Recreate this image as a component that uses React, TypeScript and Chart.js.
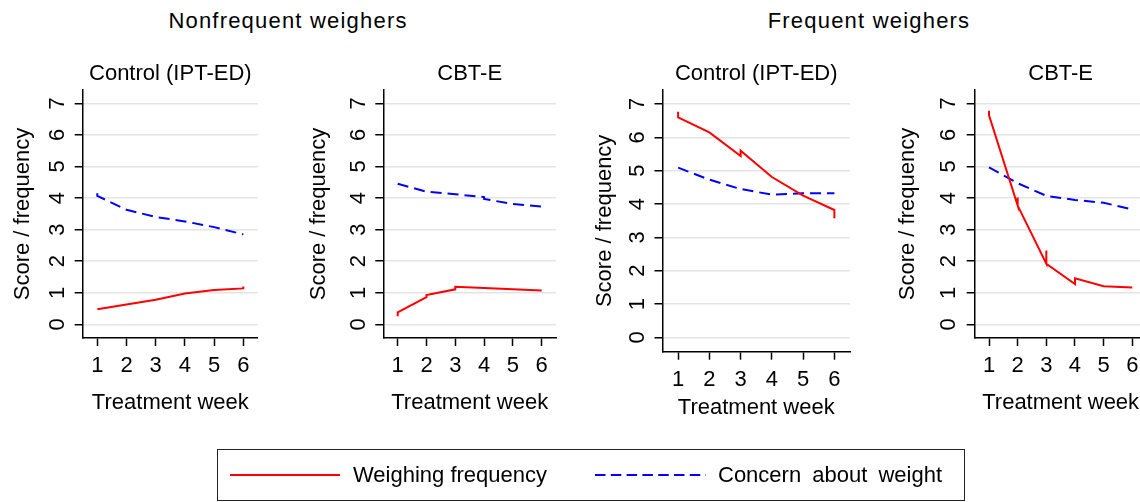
import React, { useEffect, useRef } from "react";
import { Chart, registerables } from "chart.js";

Chart.register(...registerables);

// ---------- text ----------
const groupTitles = ["Nonfrequent weighers", "Frequent weighers"];
const panelTitles = ["Control (IPT-ED)", "CBT-E", "Control (IPT-ED)", "CBT-E"];
const xAxisTitle = "Treatment week";
const yAxisTitle = "Score / frequency";
const seriesNames = ["Weighing frequency", "Concern about weight"];
const weekTicks = [1, 2, 3, 4, 5, 6];
const scoreTicks = [0, 1, 2, 3, 4, 5, 6, 7];

// ---------- data (week, value) ----------
// Nonfrequent weighers – Control (IPT-ED)
const nfCtrlFreqWeeks = [1, 2, 3, 4, 5, 6, 6];
const nfCtrlFreqValues = [0.48, 0.63, 0.78, 0.98, 1.09, 1.14, 1.2];
const nfCtrlConcernWeeks = [1, 1, 2, 3, 4, 5, 6];
const nfCtrlConcernValues = [4.15, 4.07, 3.63, 3.4, 3.26, 3.08, 2.85];
// Nonfrequent weighers – CBT-E
const nfCbtFreqWeeks = [1, 1, 2, 2, 3, 3, 4, 5, 6];
const nfCbtFreqValues = [0.26, 0.38, 0.86, 0.93, 1.11, 1.19, 1.15, 1.11, 1.07];
const nfCbtConcernWeeks = [1, 2, 3, 4, 4, 5, 6, 6];
const nfCbtConcernValues = [4.45, 4.2, 4.12, 4.03, 3.97, 3.81, 3.73, 3.63];
// Frequent weighers – Control (IPT-ED)
const fCtrlFreqWeeks = [1, 1, 2, 3, 3, 4, 5, 6, 6];
const fCtrlFreqValues = [6.77, 6.6, 6.15, 5.44, 5.6, 4.81, 4.25, 3.82, 3.57];
const fCtrlConcernWeeks = [1, 2, 3, 4, 5, 6];
const fCtrlConcernValues = [5.09, 4.73, 4.45, 4.28, 4.32, 4.32];
// Frequent weighers – CBT-E
const fCbtFreqWeeks = [1, 1, 2, 2, 2, 3, 3, 3, 4, 4, 5, 6];
const fCbtFreqValues = [6.76, 6.62, 3.76, 4.02, 3.76, 1.92, 2.34, 1.92, 1.28, 1.46, 1.21, 1.17];
const fCbtConcernWeeks = [1, 2, 3, 4, 5, 6];
const fCbtConcernValues = [4.97, 4.47, 4.07, 3.94, 3.85, 3.64];

// ---------- styles ----------
const FONT = "'Liberation Sans', Arial, Helvetica, sans-serif";
const RED = "#ff0000";
const BLUE = "#0000ff";
const GRID = "#e4e4e4";
const FS = 22;
const LH = FS * 1.2;
const X_MIN = 0.5;
const X_MAX = 6.5;
const Y_MIN = -0.43;
const Y_MAX = 7.42;
const CANVAS_TOP = 50;
const CANVAS_BOTTOM = 430;
const PLOT_TOP = 90;
const TITLE_Y = 74;

type PanelSpec = {
  title: string;
  canvasLeft: number;
  plotL: number;
  plotR: number;
  plotB: number;
  yTitleX: number;
  yTickX: number;
  xTickY: number;
  xTitleY: number;
  freqWeeks: number[];
  freqValues: number[];
  concernWeeks: number[];
  concernValues: number[];
};

const panels: PanelSpec[] = [
  {
    title: panelTitles[0], canvasLeft: 0, plotL: 82.7, plotR: 257.9, plotB: 338,
    yTitleX: 23.3, yTickX: 57, xTickY: 366, xTitleY: 403,
    freqWeeks: nfCtrlFreqWeeks, freqValues: nfCtrlFreqValues,
    concernWeeks: nfCtrlConcernWeeks, concernValues: nfCtrlConcernValues,
  },
  {
    title: panelTitles[1], canvasLeft: 290, plotL: 383.3, plotR: 556.1, plotB: 338,
    yTitleX: 319, yTickX: 358, xTickY: 366, xTitleY: 403,
    freqWeeks: nfCbtFreqWeeks, freqValues: nfCbtFreqValues,
    concernWeeks: nfCbtConcernWeeks, concernValues: nfCbtConcernValues,
  },
  {
    title: panelTitles[2], canvasLeft: 580, plotL: 662.5, plotR: 850, plotB: 351.7,
    yTitleX: 605, yTickX: 636.7, xTickY: 380, xTitleY: 408,
    freqWeeks: fCtrlFreqWeeks, freqValues: fCtrlFreqValues,
    concernWeeks: fCtrlConcernWeeks, concernValues: fCtrlConcernValues,
  },
  {
    title: panelTitles[3], canvasLeft: 870, plotL: 974.7, plotR: 1146.6, plotB: 338,
    yTitleX: 908, yTickX: 948, xTickY: 366, xTitleY: 403,
    freqWeeks: fCbtFreqWeeks, freqValues: fCbtFreqValues,
    concernWeeks: fCbtConcernWeeks, concernValues: fCbtConcernValues,
  },
];

const toXY = (weeks: number[], values: number[]) =>
  weeks.map((x, i) => ({ x, y: values[i] }));

function Panel({ spec }: { spec: PanelSpec }) {
  const ref = useRef<HTMLCanvasElement | null>(null);
  const canvasW = Math.ceil(spec.plotR - spec.canvasLeft + 4);
  const canvasH = CANVAS_BOTTOM - CANVAS_TOP;

  useEffect(() => {
    if (!ref.current) return;
    const padR = canvasW - (spec.plotR - spec.canvasLeft);
    const yW = spec.plotL - spec.canvasLeft;
    const xH = CANVAS_BOTTOM - spec.plotB;
    const xTickPad = spec.xTickY - spec.plotB - 8 - LH / 2;
    const xTitlePadB = CANVAS_BOTTOM - spec.xTitleY - LH / 2;
    const yTitlePadT = spec.yTitleX - spec.canvasLeft - LH / 2;
    const titlePadT = TITLE_Y - CANVAS_TOP - LH / 2;
    const titlePadB = PLOT_TOP - CANVAS_TOP - titlePadT - LH;
    const font = { family: FONT, size: FS, weight: "normal" as const, lineHeight: 1.2 };

    // vertical (rotated) y tick labels, placed through the y scale
    const rotatedYLabels = {
      id: "rotatedYLabels",
      afterDraw(chart: any) {
        const scale = chart.scales.y;
        const ctx = chart.ctx;
        const cx = spec.yTickX - spec.canvasLeft;
        ctx.save();
        ctx.fillStyle = "#000";
        ctx.font = `${FS}px ${FONT}`;
        ctx.textAlign = "center";
        ctx.textBaseline = "middle";
        scoreTicks.forEach((v) => {
          const py = scale.getPixelForValue(v);
          ctx.save();
          ctx.translate(cx, py);
          ctx.rotate(-Math.PI / 2);
          ctx.fillText(String(v), 0, 1);
          ctx.restore();
        });
        ctx.restore();
      },
    };

    const chart = new Chart(ref.current, {
      type: "line",
      data: {
        datasets: [
          {
            label: seriesNames[0],
            data: toXY(spec.freqWeeks, spec.freqValues),
            borderColor: RED,
            backgroundColor: RED,
            borderWidth: 2,
            pointRadius: 0,
            tension: 0,
            fill: false,
          },
          {
            label: seriesNames[1],
            data: toXY(spec.concernWeeks, spec.concernValues),
            borderColor: BLUE,
            backgroundColor: BLUE,
            borderWidth: 2,
            borderDash: [11, 6],
            pointRadius: 0,
            tension: 0,
            fill: false,
          },
        ],
      },
      options: {
        animation: false,
        responsive: false,
        events: [],
        layout: { padding: { left: 0, top: 0, right: padR, bottom: 0 } },
        plugins: {
          legend: { display: false },
          tooltip: { enabled: false },
          title: {
            display: true,
            text: spec.title,
            fullSize: false,
            color: "#000",
            font,
            padding: { top: titlePadT, bottom: titlePadB },
          },
        },
        scales: {
          x: {
            type: "linear",
            min: X_MIN,
            max: X_MAX,
            afterBuildTicks: (s: any) => {
              s.ticks = weekTicks.map((v) => ({ value: v }));
            },
            afterFit: (s: any) => {
              s.height = xH;
            },
            ticks: {
              color: "#000",
              font,
              padding: xTickPad,
              maxRotation: 0,
              minRotation: 0,
              autoSkip: false,
              callback: (v: any) => String(v),
            },
            grid: {
              drawOnChartArea: false,
              drawTicks: true,
              tickLength: 8,
              tickColor: "#000",
              tickWidth: 1.5,
            },
            border: { display: true, color: "#000", width: 1.5 },
            title: {
              display: true,
              text: xAxisTitle,
              color: "#000",
              font,
              padding: { top: 0, bottom: xTitlePadB },
            },
          },
          y: {
            type: "linear",
            min: Y_MIN,
            max: Y_MAX,
            afterBuildTicks: (s: any) => {
              s.ticks = scoreTicks.map((v) => ({ value: v }));
            },
            afterFit: (s: any) => {
              s.width = yW;
            },
            ticks: {
              display: false,
              autoSkip: false,
            },
            grid: {
              color: GRID,
              lineWidth: 1.5,
              drawTicks: true,
              tickLength: 8,
              tickColor: "#000",
              tickWidth: 1.5,
            },
            border: { display: true, color: "#000", width: 1.5 },
            title: {
              display: true,
              text: yAxisTitle,
              color: "#000",
              font,
              padding: { top: yTitlePadT, bottom: 0 },
            },
          },
        },
      },
      plugins: [rotatedYLabels],
    } as any);
    return () => chart.destroy();
  }, [spec]);

  return (
    <canvas
      ref={ref}
      width={canvasW}
      height={canvasH}
      style={{
        position: "absolute",
        left: spec.canvasLeft,
        top: CANVAS_TOP,
        width: canvasW,
        height: canvasH,
      }}
    />
  );
}

const textStyle: React.CSSProperties = {
  position: "absolute",
  fontFamily: FONT,
  fontSize: FS,
  color: "#000",
  lineHeight: `${LH}px`,
  whiteSpace: "nowrap",
};

export default function App() {
  return (
    <div
      style={{
        position: "absolute",
        left: 0,
        top: 0,
        width: 1140,
        height: 502,
        overflow: "hidden",
        background: "#fff",
      }}
    >
      {/* group titles */}
      <div
        style={{
          ...textStyle,
          left: 288,
          top: 21 - LH / 2,
          transform: "translateX(-50%)",
          letterSpacing: "1.2px",
        }}
      >
        {groupTitles[0]}
      </div>
      <div
        style={{
          ...textStyle,
          left: 869,
          top: 21 - LH / 2,
          transform: "translateX(-50%)",
          letterSpacing: "1.2px",
        }}
      >
        {groupTitles[1]}
      </div>

      {panels.map((p, i) => (
        <Panel key={i} spec={p} />
      ))}

      {/* legend */}
      <div
        style={{
          position: "absolute",
          left: 217,
          top: 449,
          width: 748,
          height: 52,
          border: "1.5px solid #222",
          boxSizing: "border-box",
        }}
      />
      <svg
        width={1140}
        height={502}
        style={{ position: "absolute", left: 0, top: 0, pointerEvents: "none" }}
      >
        <line x1={230} y1={475} x2={340} y2={475} stroke={RED} strokeWidth={2} />
        <line
          x1={595}
          y1={475}
          x2={706}
          y2={475}
          stroke={BLUE}
          strokeWidth={2}
          strokeDasharray="10.5 5.3"
        />
      </svg>
      <div style={{ ...textStyle, left: 353, top: 475.5 - LH / 2 }}>{seriesNames[0]}</div>
      <div style={{ ...textStyle, left: 718, top: 475.5 - LH / 2, wordSpacing: "5px" }}>
        {seriesNames[1]}
      </div>
    </div>
  );
}
